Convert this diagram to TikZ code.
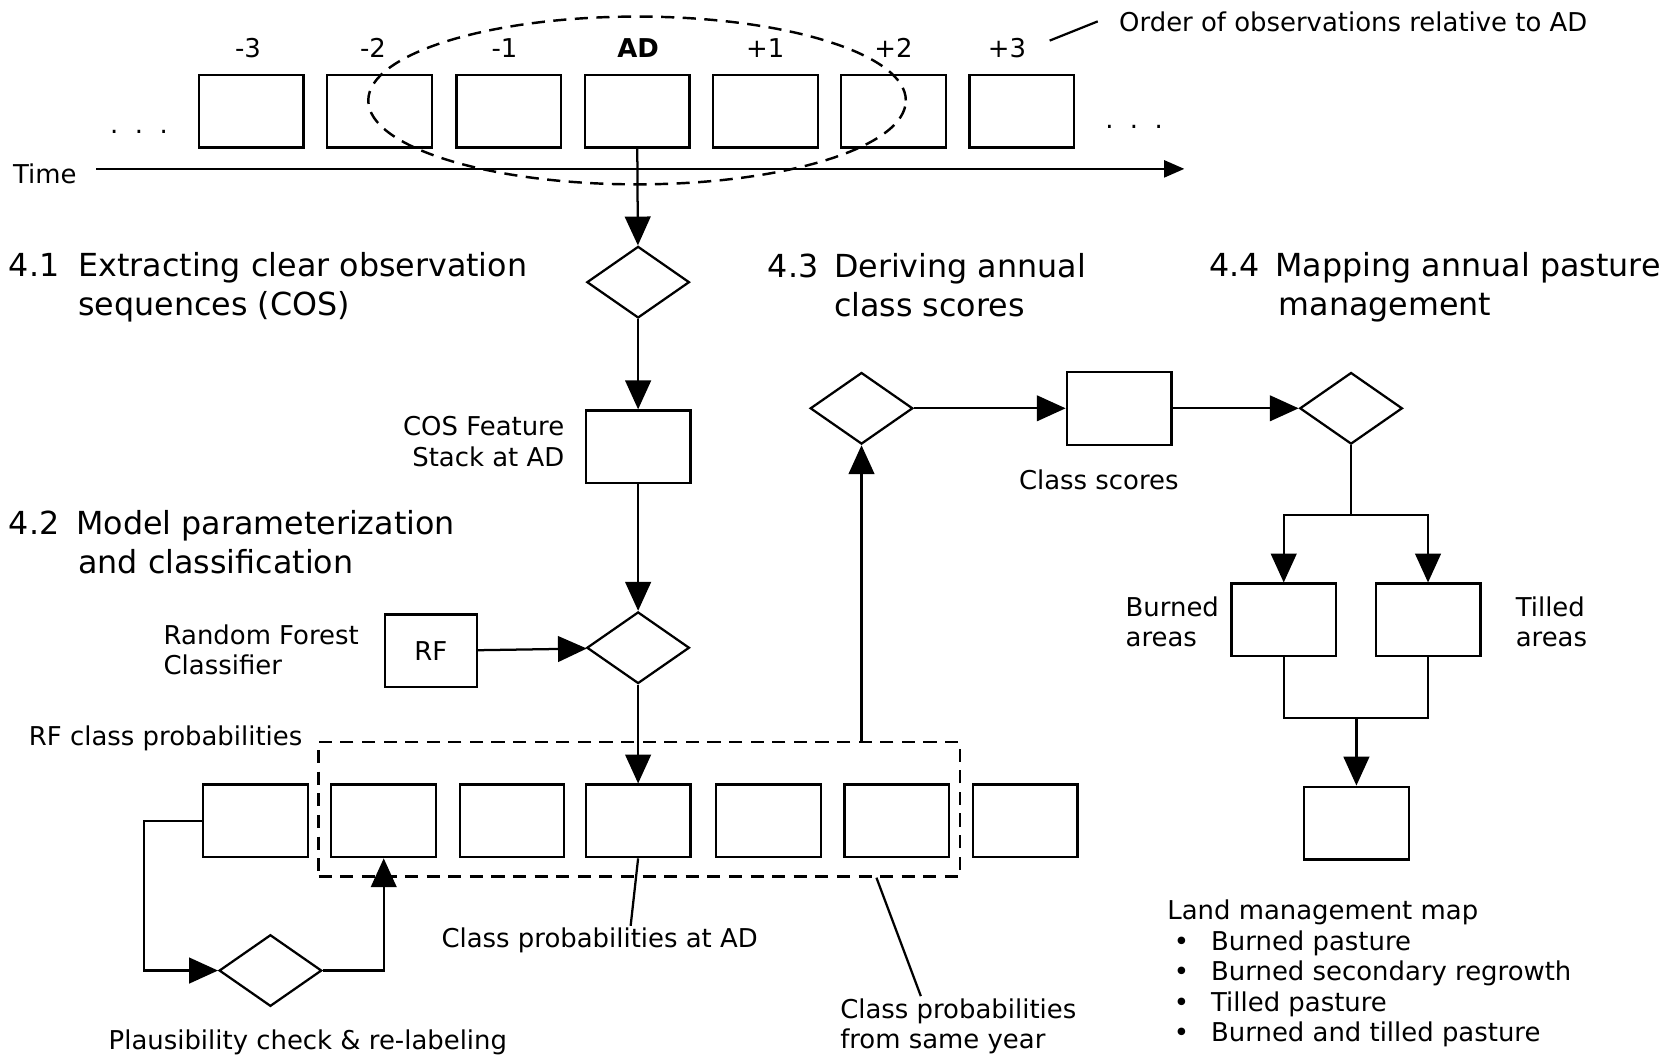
\documentclass[tikz,border=0pt]{standalone}
\usepackage{fontspec}
\setmainfont{DejaVu Sans}
\usetikzlibrary{shapes.geometric, arrows.meta, positioning, calc}

\newcommand{\headfont}{\fontsize{16.9}{21}\selectfont}
\newcommand{\lblfont}{\fontsize{13.8}{16.2}\selectfont}

\tikzset{
  box/.style={draw, line width=1.2pt, rectangle, minimum width=1.96cm, minimum height=1.36cm, inner sep=0pt},
  dec/.style={draw, line width=1.2pt, diamond, minimum width=1.92cm, minimum height=1.34cm, inner sep=0pt},
  lbl/.style={font=\lblfont, inner sep=1pt},
  head/.style={font=\headfont, align=left, anchor=west, inner sep=0pt},
  arr/.style={line width=1.2pt, -{Triangle[length=0.54cm, width=0.48cm]}},
  con/.style={line width=1.2pt},
  grp/.style={draw, line width=1.3pt, dash pattern=on 7pt off 4.5pt},
}

\begin{document}
\begin{tikzpicture}[x=0.02cm, y=-0.02cm]
\useasboundingbox (0,0) rectangle (1568,989);

% observations along the time axis
\node[box] (tm3) at (235,104) {};
\node[box] (tm2) at (355,104) {};
\node[box] (tm1) at (476,104) {};
\node[box] (tad) at (596,104) {};
\node[box] (tp1) at (716,104) {};
\node[box] (tp2) at (836,104) {};
\node[box] (tp3) at (956,104) {};

\node[lbl] (lm3) at (232,45) {-3};
\node[lbl] (lm2) at (349,45) {-2};
\node[lbl] (lm1) at (472,45) {-1};
\node[lbl] (lad) at (597,45) {\textbf{AD}};
\node[lbl] (lp1) at (716,45) {+1};
\node[lbl] (lp2) at (836,45) {+2};
\node[lbl] (lp3) at (942,45) {+3};

\node[lbl] (dotsl) at (130,123) {.\ \ .\ \ .};
\node[lbl] (dotsr) at (1061,119) {.\ \ .\ \ .};

\node[grp, ellipse, minimum width=10.06cm, minimum height=3.14cm, inner sep=0pt] (obswin) at (596,94) {};

\node[lbl, anchor=west] (order) at (1045,20) {Order of observations relative to AD};
\coordinate (ordtip) at (982,38);
\draw[con] (order.west) ++(-0.36cm,0) -- (ordtip);

\node[lbl] (time) at (42,163) {Time};
\coordinate (tstart) at (90,158);
\coordinate (tend) at (1108,158);
\draw[line width=1.2pt, -{Triangle[length=0.38cm, width=0.32cm]}] (tstart) -- (tend);

% section headings
\node[head] (h41) at (8,269) {\makebox[1.3cm][l]{4.1}Extracting clear observation\\\hspace*{1.3cm}sequences (COS)};
\node[head] (h42) at (8,507) {\makebox[1.26cm][l]{4.2}Model parameterization\\\hspace*{1.3cm}and classification};
\node[head] (h43) at (718,267) {\makebox[1.24cm][l]{4.3}Deriving annual\\\hspace*{1.24cm}class scores};
\node[head] (h44) at (1131,269) {\makebox[1.24cm][l]{4.4}Mapping annual pasture\\\hspace*{1.3cm}management};

% 4.1 / 4.2
\node[dec] (d1) at (597,264) {};
\node[box] (cos) at (597,418) {};
\node[lbl, align=right, anchor=east] (coslbl) at (530,413) {COS Feature\\Stack at AD};
\node[dec] (d2) at (597,606) {};
\node[box, minimum width=1.72cm] (rf) at (403,609) {\lblfont RF};
\node[lbl, align=left, anchor=west] (rflbl) at (151,608) {Random Forest\\Classifier};

\draw[arr] (tad) -- (d1);
\draw[arr] (d1) -- (cos);
\draw[arr] (cos) -- (d2);
\draw[arr] (rf) -- (d2);

% class probabilities
\node[box] (b0) at (239,768) {};
\node[box] (b1) at (359,768) {};
\node[box] (b2) at (479,768) {};
\node[box] (b3) at (597,768) {};
\node[box] (b4) at (719,768) {};
\node[box] (b5) at (839,768) {};
\node[box] (b6) at (959,768) {};
\node[grp, minimum width=12cm, minimum height=2.52cm, inner sep=0pt] (probwin) at (598,757) {};
\node[lbl, anchor=west] (rfprob) at (25,691) {RF class probabilities};

\draw[arr] (d2) -- (b3);

% plausibility loop
\node[dec] (d5) at (253,908) {};
\node[lbl] (plaus) at (288,975) {Plausibility check \& re-labeling};
\draw[arr] (b0.west) -- ++(-54,0) |- (d5);
\draw[arr] (d5.east) -| (b1.south);

\node[lbl] (cpad) at (561,880) {Class probabilities at AD};
\draw[con] (b3.south) -- ([xshift=0.58cm]cpad.north);
\node[lbl, align=left, anchor=west] (cpsy) at (784,960) {Class probabilities\\from same year};
\draw[con] ([xshift=4.44cm]probwin.south) -- ([xshift=-0.7cm]cpsy.north);

% 4.3 class scores
\node[dec] (d3) at (806,382) {};
\node[box] (cs) at (1047,382) {};
\node[lbl] (cslbl) at (1028,449) {Class scores};
\draw[arr] (d3 |- probwin.north) -- (d3);
\draw[arr] (d3) -- (cs);

% 4.4 mapping
\node[dec] (d4) at (1264,382) {};
\node[box] (burn) at (1201,580) {};
\node[box] (till) at (1336,580) {};
\node[lbl, align=left, anchor=west] (burnlbl) at (1051,582) {Burned\\areas};
\node[lbl, align=left, anchor=west] (tilllbl) at (1416,582) {Tilled\\areas};
\node[box] (lmm) at (1269,770) {};
\coordinate (split) at (1264,482);
\coordinate (merge) at (1269,672);

\draw[arr] (cs) -- (d4);
\draw[con] (d4) -- (split);
\draw[arr] (split) -| (burn);
\draw[arr] (split) -| (till);
\draw[con] (burn) |- (merge);
\draw[con] (till) |- (merge);
\draw[arr] (merge) -- (lmm);

\node[lbl, align=left, anchor=north west] (legend) at (1090,840) {Land management map\\
\hspace*{0.12cm}\makebox[0.7cm][l]{\textbullet}Burned pasture\\
\hspace*{0.12cm}\makebox[0.7cm][l]{\textbullet}Burned secondary regrowth\\
\hspace*{0.12cm}\makebox[0.7cm][l]{\textbullet}Tilled pasture\\
\hspace*{0.12cm}\makebox[0.7cm][l]{\textbullet}Burned and tilled pasture};
\end{tikzpicture}
\end{document}
